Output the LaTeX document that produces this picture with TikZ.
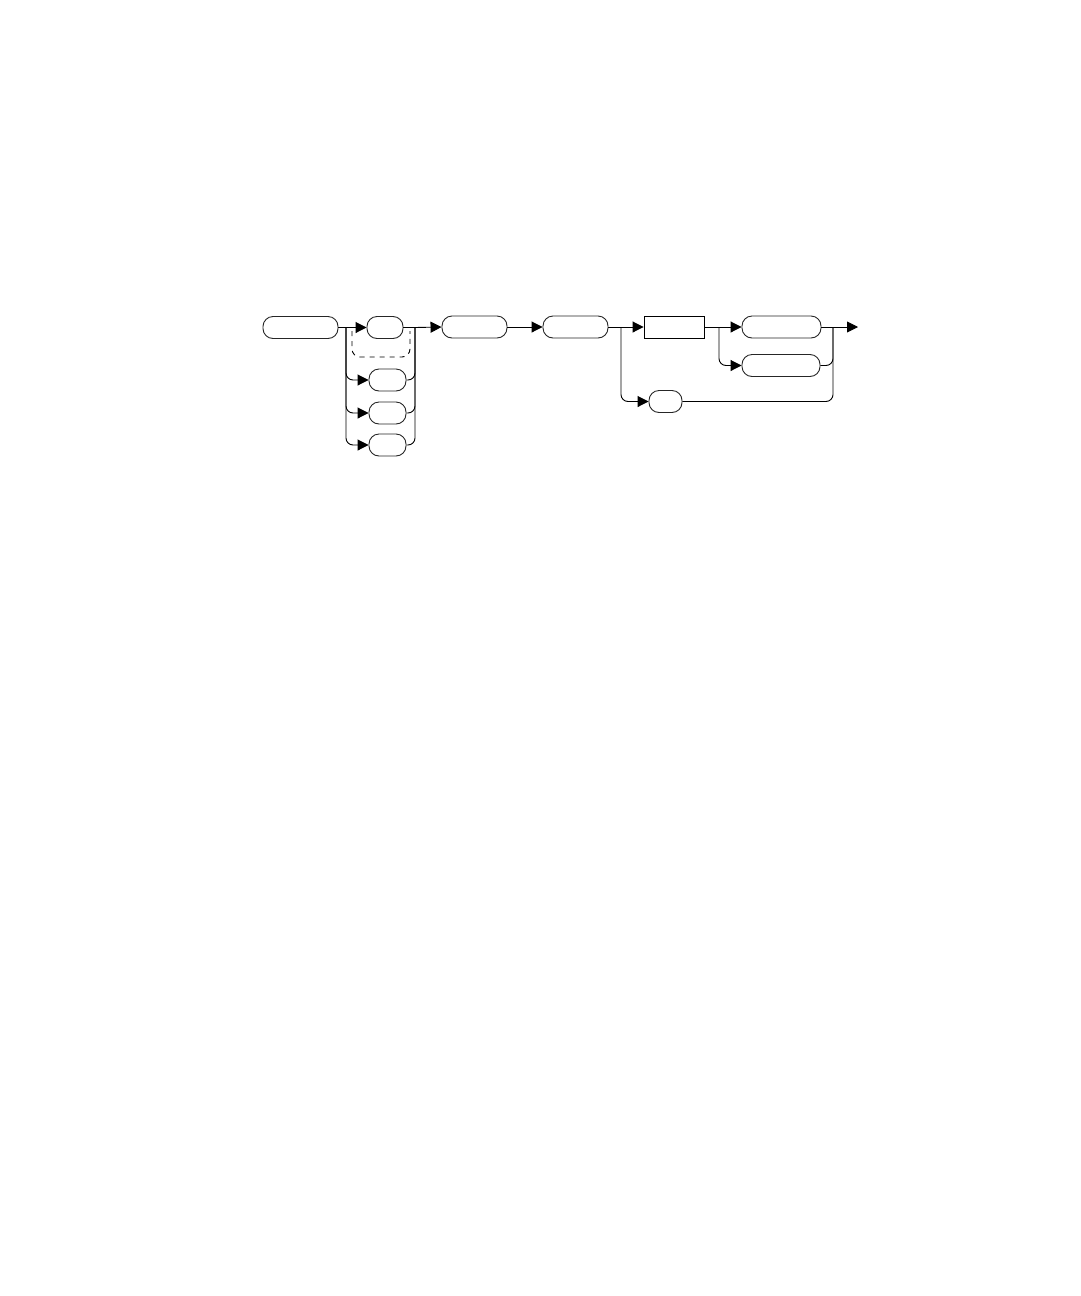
\documentclass[tikz,border=0pt]{standalone}
\usetikzlibrary{arrows.meta}
\begin{document}
\begin{tikzpicture}[x=1pt,y=-1pt,
  pill/.style={draw=black!85,line width=0.9pt,rounded corners=10pt,minimum height=22pt,inner sep=0pt},
  boxnode/.style={draw=black,line width=0.9pt,minimum height=22pt,inner sep=0pt},
  conn/.style={line width=0.9pt},
  arr/.style={conn,-{Triangle[length=11pt,width=11pt]}},
  rc/.style={rounded corners=7pt}]
\useasboundingbox (0,0) rectangle (1080,1296);
% nodes
\node[pill,minimum width=75pt] (A) at (300.5,327.5) {};
\node[pill,minimum width=36pt] (B) at (385,327.5) {};
\node[pill,minimum width=37pt] (C) at (387.5,380) {};
\node[pill,minimum width=37pt] (D) at (387.5,413) {};
\node[pill,minimum width=37pt] (E) at (387.5,445) {};
\node[pill,minimum width=65pt] (F) at (474.5,327) {};
\node[pill,minimum width=65pt] (G) at (575.5,327) {};
\node[boxnode,minimum width=60pt] (H) at (674,327) {};
\node[pill,minimum width=79pt] (I) at (781.5,327) {};
\node[pill,minimum width=78pt] (J) at (781,365.5) {};
\node[pill,minimum width=33pt] (K) at (665.5,401.5) {};
% junctions
\coordinate (j1) at (346,327.5);
\coordinate (j2) at (415,327.5);
\coordinate (j3) at (621,327);
\coordinate (j4) at (719,327);
\coordinate (j5) at (833,327);
\coordinate (fin) at (858,327);
\coordinate (dl) at (352,331);
\coordinate (dr) at (410,331);
% connectors
\draw[conn] (A.east) -- (j1);
\draw[arr] (j1) -- (B.west);
\draw[arr,rc] (j1) |- (C.west);
\draw[arr,rc] (j1) |- (D.west);
\draw[arr,rc] (j1) |- (E.west);
\draw[conn] (B.east) -- (j2);
\draw[conn,rc] (C.east) -| (j2);
\draw[conn,rc] (D.east) -| (j2);
\draw[conn,rc] (E.east) -| (j2);
\draw[line width=0.9pt,dash pattern=on 5pt off 5pt,rounded corners=8pt] (dl) -- (352,357) -- (410,357) -- (dr);
\draw[arr] (j2) -- (F.west);
\draw[arr] (F.east) -- (G.west);
\draw[conn] (G.east) -- (j3);
\draw[arr] (j3) -- (H.west);
\draw[arr,rc] (j3) |- (K.west);
\draw[conn] (H.east) -- (j4);
\draw[arr] (j4) -- (I.west);
\draw[arr,rc] (j4) |- (J.west);
\draw[conn] (I.east) -- (j5);
\draw[arr] (j5) -- (fin);
\draw[conn,rc] (J.east) -| (j5);
\draw[conn,rc] (K.east) -| (j5);
\end{tikzpicture}
\end{document}
